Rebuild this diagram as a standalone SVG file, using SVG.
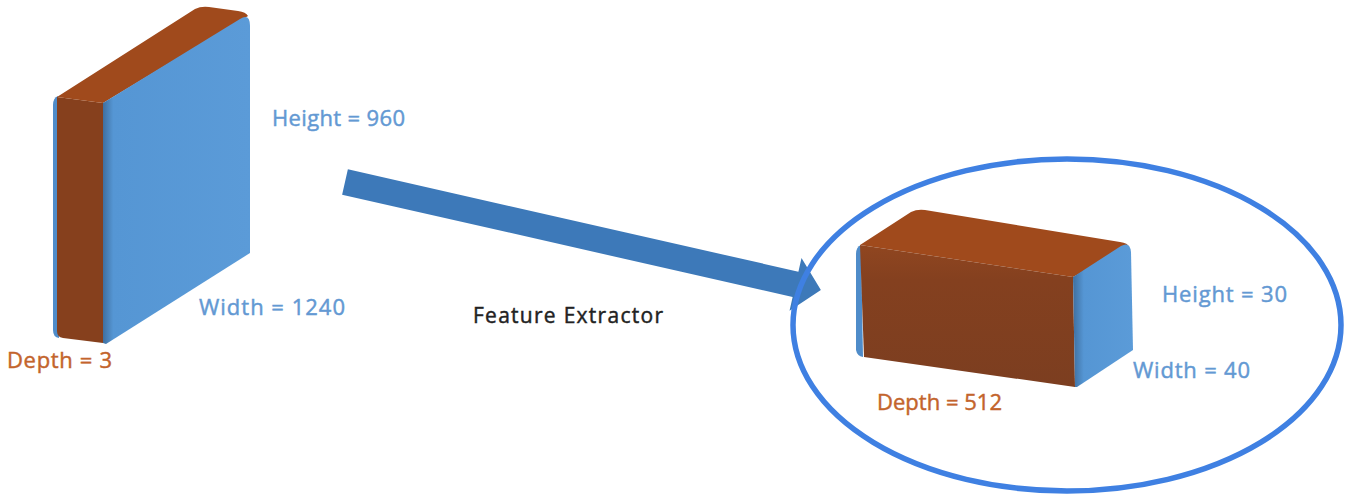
<svg xmlns="http://www.w3.org/2000/svg" width="1349" height="498" viewBox="0 0 1349 498">
<defs>
<linearGradient id="blueFace" x1="0" y1="0" x2="1" y2="0">
<stop offset="0" stop-color="#3f6f9f"/>
<stop offset="0.07" stop-color="#5596d4"/>
<stop offset="1" stop-color="#5b9bd8"/>
</linearGradient>
<linearGradient id="blueSide" x1="0" y1="0" x2="1" y2="0">
<stop offset="0" stop-color="#3f6f9f"/>
<stop offset="0.18" stop-color="#5596d4"/>
<stop offset="1" stop-color="#5b9bd8"/>
</linearGradient>
<linearGradient id="brownFront" x1="0" y1="0" x2="0" y2="1">
<stop offset="0" stop-color="#904620"/>
<stop offset="0.25" stop-color="#84401f"/>
<stop offset="1" stop-color="#7c3e20"/>
</linearGradient>
<style>
.lbl{font-family:"Open Sans","Liberation Sans",sans-serif;font-size:22px;stroke-width:0.45px}
.blue{fill:#6399d3;stroke:#6399d3}
.brown{fill:#c3642c;stroke:#c3642c}
.dark{fill:#222222;stroke:#222222;font-size:21px}
.sliver{fill:#4f8cc9}
.top{fill:#a04a1c}
.side{fill:#86401d}
</style>
</defs>
<rect width="1349" height="498" fill="#ffffff"/>

<g id="input-volume">
<path class="sliver" d="M58,96 Q53,98 53,105 L53,330 Q53,337 59,338 Z"/>
<path class="side" d="M57,97 L103,103 L103,343 L63,338 Q57,337 57,331 Z"/>
<path class="top" d="M57,97 L195,9 Q201,6 209,7 L238,11 Q246,12 248,16 L103,103 Z"/>
<path fill="url(#blueFace)" d="M103,103 L240,19 Q250,13 250,26 L250,253 L106,344 L103,343 Z"/>
<text class="lbl blue" x="272" y="126" textLength="133">Height = 960</text>
<text class="lbl blue" x="199" y="315" textLength="146">Width = 1240</text>
<text class="lbl brown" x="7" y="368" textLength="105">Depth = 3</text>
</g>

<g id="connectors">
<polygon fill="#3d79b9" transform="translate(345,182) rotate(12.8)" points="0,-13 462,-13 462,-27 488,0 462,27 462,13 0,13"/>
<text class="lbl dark" x="473" y="323" textLength="190">Feature Extractor</text>
</g>

<g id="feature-volume">
<ellipse cx="1067" cy="325" rx="274" ry="166" fill="none" stroke="#3f80e2" stroke-width="5.5"/>
<path class="sliver" d="M861,245 Q856,247 856,254 L856,350 Q857,356 863,357 Z"/>
<path class="top" d="M860,245 L911,212 Q917,209 925,210 L1120,242 Q1128,243 1129,247 L1073,277 Z"/>
<path fill="url(#brownFront)" d="M860,245 L1073,277 L1075,387 L864,357 Z"/>
<path fill="url(#blueSide)" d="M1073,277 L1121,246 Q1130,241 1131,252 L1133,350 L1077,387 L1075,387 Z"/>
<text class="lbl blue" x="1162" y="302" textLength="125">Height = 30</text>
<text class="lbl blue" x="1133" y="378" textLength="117">Width = 40</text>
<text class="lbl brown" x="877" y="410" textLength="125">Depth = 512</text>
</g>
</svg>
